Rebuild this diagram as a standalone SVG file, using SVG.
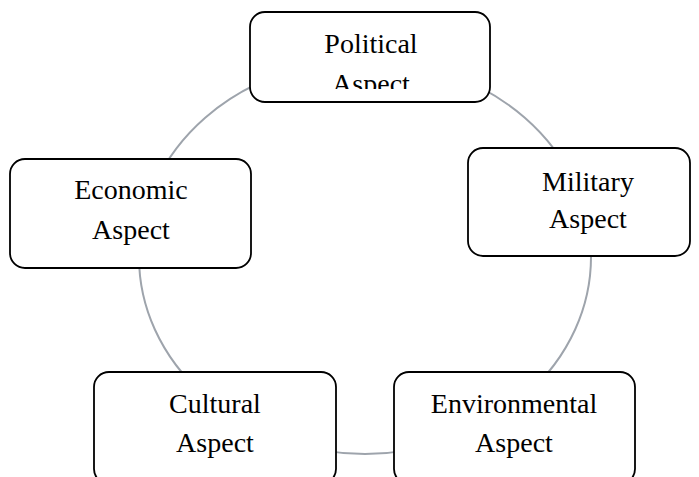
<svg xmlns="http://www.w3.org/2000/svg" width="699" height="477" viewBox="0 0 699 477">
<style>
.box{fill:#fff;stroke:#000;stroke-width:1.8}
.t{font-family:"Liberation Serif","Times New Roman",serif;font-size:28px;fill:#000;text-anchor:middle}
.ring{fill:none;stroke:#9ea4ac;stroke-width:2}
</style>
<defs>
<clipPath id="polclip"><rect x="250" y="12" width="240" height="77"/></clipPath>
</defs>
<rect width="699" height="477" fill="#fff"/>
<g id="connectors">
<ellipse class="ring" cx="365" cy="257" rx="226" ry="197"/>
</g>
<g id="political">
<rect class="box" x="250" y="12" width="240" height="90" rx="15"/>
<g clip-path="url(#polclip)">
<text class="t" x="371" y="53">Political</text>
<text class="t" x="371" y="93">Aspect</text>
</g>
</g>
<g id="economic">
<rect class="box" x="10" y="159" width="241" height="109" rx="15"/>
<text class="t" x="131" y="199">Economic</text>
<text class="t" x="131" y="239">Aspect</text>
</g>
<g id="military">
<rect class="box" x="468" y="148" width="222" height="108" rx="15"/>
<text class="t" x="588" y="191">Military</text>
<text class="t" x="588" y="228">Aspect</text>
</g>
<g id="cultural">
<rect class="box" x="94" y="372" width="242" height="112" rx="15"/>
<text class="t" x="215" y="413">Cultural</text>
<text class="t" x="215" y="452">Aspect</text>
</g>
<g id="environmental">
<rect class="box" x="394" y="372" width="241" height="112" rx="15"/>
<text class="t" x="514" y="413">Environmental</text>
<text class="t" x="514" y="452">Aspect</text>
</g>
</svg>
